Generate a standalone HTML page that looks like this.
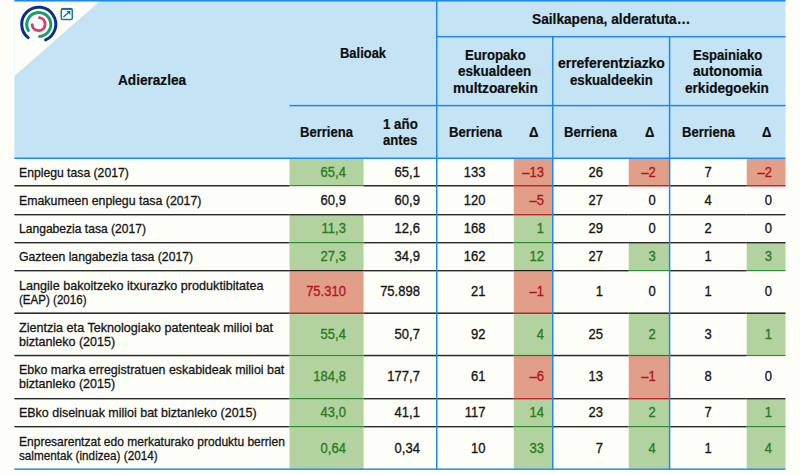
<!DOCTYPE html>
<html><head><meta charset="utf-8"><title>Adierazleak</title>
<style>
html,body{margin:0;padding:0;}
body{width:800px;height:475px;overflow:hidden;background:#fefef9;position:relative;font-family:"Liberation Sans",sans-serif;}
svg{position:absolute;left:0;top:0;}
.t{position:absolute;white-space:nowrap;color:#151515;line-height:16px;height:16px;}
.h{font-weight:bold;font-size:14px;color:#0e0e0e;-webkit-text-stroke:0.2px;}
.b{font-size:13px;-webkit-text-stroke:0.3px;}
.g{color:#2b7a1f;}
.r{color:#b3141a;}
</style></head><body>
<svg width="800" height="475" viewBox="0 0 800 475">
<rect x="14.4" y="0" width="771.1" height="158.5" fill="#c4e4f5"/>
<polygon points="14.4,1 100,1 14.4,75.9" fill="#fefef9"/>
<rect x="289.5" y="158.6" width="74.1" height="26.8" fill="#b2d3a0"/>
<rect x="513.8" y="158.6" width="38.2" height="26.8" fill="#e19f8a"/>
<rect x="628.7" y="158.6" width="40.3" height="26.8" fill="#e19f8a"/>
<rect x="746.7" y="158.6" width="38.8" height="26.8" fill="#e19f8a"/>
<rect x="513.8" y="186.1" width="38.2" height="28.3" fill="#e19f8a"/>
<rect x="289.5" y="215" width="74.1" height="27.4" fill="#b2d3a0"/>
<rect x="513.8" y="215" width="38.2" height="27.4" fill="#b2d3a0"/>
<rect x="289.5" y="243" width="74.1" height="27.4" fill="#b2d3a0"/>
<rect x="513.8" y="243" width="38.2" height="27.4" fill="#b2d3a0"/>
<rect x="628.7" y="243" width="40.3" height="27.4" fill="#b2d3a0"/>
<rect x="746.7" y="243" width="38.8" height="27.4" fill="#b2d3a0"/>
<rect x="289.5" y="271" width="74.1" height="41.8" fill="#e19f8a"/>
<rect x="513.8" y="271" width="38.2" height="41.8" fill="#e19f8a"/>
<rect x="289.5" y="313.6" width="74.1" height="41.6" fill="#b2d3a0"/>
<rect x="513.8" y="313.6" width="38.2" height="41.6" fill="#b2d3a0"/>
<rect x="628.7" y="313.6" width="40.3" height="41.6" fill="#b2d3a0"/>
<rect x="746.7" y="313.6" width="38.8" height="41.6" fill="#b2d3a0"/>
<rect x="289.5" y="355.9" width="74.1" height="42.5" fill="#b2d3a0"/>
<rect x="513.8" y="355.9" width="38.2" height="42.5" fill="#e19f8a"/>
<rect x="628.7" y="355.9" width="40.3" height="42.5" fill="#e19f8a"/>
<rect x="289.5" y="399" width="74.1" height="27.4" fill="#b2d3a0"/>
<rect x="513.8" y="399" width="38.2" height="27.4" fill="#b2d3a0"/>
<rect x="628.7" y="399" width="40.3" height="27.4" fill="#b2d3a0"/>
<rect x="746.7" y="399" width="38.8" height="27.4" fill="#b2d3a0"/>
<rect x="289.5" y="427" width="74.1" height="41.85" fill="#b2d3a0"/>
<rect x="513.8" y="427" width="38.2" height="41.85" fill="#b2d3a0"/>
<rect x="628.7" y="427" width="40.3" height="41.85" fill="#b2d3a0"/>
<rect x="746.7" y="427" width="38.8" height="41.85" fill="#b2d3a0"/>
<rect x="14.4" y="185" width="275.1" height="1.5" fill="#2b2b2b"/>
<rect x="289.5" y="185" width="74.1" height="1.2" fill="#2d8c31"/>
<rect x="363.6" y="185" width="72.4" height="1.5" fill="#2b2b2b"/>
<rect x="436" y="185" width="77.8" height="1.5" fill="#2b2b2b"/>
<rect x="513.8" y="185" width="38.2" height="1.5" fill="#c0272d"/>
<rect x="552" y="185" width="76.7" height="1.5" fill="#2b2b2b"/>
<rect x="628.7" y="185" width="40.3" height="1.5" fill="#c0272d"/>
<rect x="669" y="185" width="77.7" height="1.5" fill="#2b2b2b"/>
<rect x="746.7" y="185" width="38.8" height="1.5" fill="#c0272d"/>
<rect x="14.4" y="214" width="275.1" height="1.4" fill="#2b2b2b"/>
<rect x="289.5" y="214" width="74.1" height="1.4" fill="#2b2b2b"/>
<rect x="363.6" y="214" width="72.4" height="1.4" fill="#2b2b2b"/>
<rect x="436" y="214" width="77.8" height="1.4" fill="#2b2b2b"/>
<rect x="513.8" y="214" width="38.2" height="1.4" fill="#c0272d"/>
<rect x="552" y="214" width="76.7" height="1.4" fill="#2b2b2b"/>
<rect x="628.7" y="214" width="40.3" height="1.4" fill="#2b2b2b"/>
<rect x="669" y="214" width="77.7" height="1.4" fill="#2b2b2b"/>
<rect x="746.7" y="214" width="38.8" height="1.4" fill="#2b2b2b"/>
<rect x="14.4" y="242" width="275.1" height="1.4" fill="#2b2b2b"/>
<rect x="289.5" y="242" width="74.1" height="1.2" fill="#2d8c31"/>
<rect x="363.6" y="242" width="72.4" height="1.4" fill="#2b2b2b"/>
<rect x="436" y="242" width="77.8" height="1.4" fill="#2b2b2b"/>
<rect x="513.8" y="242" width="38.2" height="1.2" fill="#2d8c31"/>
<rect x="552" y="242" width="76.7" height="1.4" fill="#2b2b2b"/>
<rect x="628.7" y="242" width="40.3" height="1.4" fill="#2b2b2b"/>
<rect x="669" y="242" width="77.7" height="1.4" fill="#2b2b2b"/>
<rect x="746.7" y="242" width="38.8" height="1.4" fill="#2b2b2b"/>
<rect x="14.4" y="270" width="275.1" height="1.4" fill="#2b2b2b"/>
<rect x="289.5" y="270" width="74.1" height="1.2" fill="#1a1a1a"/>
<rect x="363.6" y="270" width="72.4" height="1.4" fill="#2b2b2b"/>
<rect x="436" y="270" width="77.8" height="1.4" fill="#2b2b2b"/>
<rect x="513.8" y="270" width="38.2" height="1.2" fill="#1a1a1a"/>
<rect x="552" y="270" width="76.7" height="1.4" fill="#2b2b2b"/>
<rect x="628.7" y="270" width="40.3" height="1.2" fill="#2d8c31"/>
<rect x="669" y="270" width="77.7" height="1.4" fill="#2b2b2b"/>
<rect x="746.7" y="270" width="38.8" height="1.2" fill="#2d8c31"/>
<rect x="14.4" y="312.4" width="275.1" height="1.6" fill="#2b2b2b"/>
<rect x="289.5" y="312.4" width="74.1" height="1.6" fill="#c0272d"/>
<rect x="363.6" y="312.4" width="72.4" height="1.6" fill="#2b2b2b"/>
<rect x="436" y="312.4" width="77.8" height="1.6" fill="#2b2b2b"/>
<rect x="513.8" y="312.4" width="38.2" height="1.6" fill="#c0272d"/>
<rect x="552" y="312.4" width="76.7" height="1.6" fill="#2b2b2b"/>
<rect x="628.7" y="312.4" width="40.3" height="1.6" fill="#2b2b2b"/>
<rect x="669" y="312.4" width="77.7" height="1.6" fill="#2b2b2b"/>
<rect x="746.7" y="312.4" width="38.8" height="1.6" fill="#2b2b2b"/>
<rect x="14.4" y="354.8" width="275.1" height="1.5" fill="#2b2b2b"/>
<rect x="289.5" y="354.95" width="74.1" height="1.15" fill="#2d8c31"/>
<rect x="363.6" y="354.8" width="72.4" height="1.5" fill="#2b2b2b"/>
<rect x="436" y="354.8" width="77.8" height="1.5" fill="#2b2b2b"/>
<rect x="513.8" y="354.9" width="38.2" height="1.2" fill="#1f7a20"/>
<rect x="552" y="354.8" width="76.7" height="1.5" fill="#2b2b2b"/>
<rect x="628.7" y="354.9" width="40.3" height="1.2" fill="#1f7a20"/>
<rect x="669" y="354.8" width="77.7" height="1.5" fill="#2b2b2b"/>
<rect x="746.7" y="354.95" width="38.8" height="1.15" fill="#2d8c31"/>
<rect x="14.4" y="398" width="275.1" height="1.4" fill="#2b2b2b"/>
<rect x="289.5" y="398" width="74.1" height="1.2" fill="#2d8c31"/>
<rect x="363.6" y="398" width="72.4" height="1.4" fill="#2b2b2b"/>
<rect x="436" y="398" width="77.8" height="1.4" fill="#2b2b2b"/>
<rect x="513.8" y="398" width="38.2" height="1.4" fill="#c0272d"/>
<rect x="552" y="398" width="76.7" height="1.4" fill="#2b2b2b"/>
<rect x="628.7" y="398" width="40.3" height="1.4" fill="#c0272d"/>
<rect x="669" y="398" width="77.7" height="1.4" fill="#2b2b2b"/>
<rect x="746.7" y="398" width="38.8" height="1.4" fill="#2b2b2b"/>
<rect x="14.4" y="426" width="275.1" height="1.4" fill="#2b2b2b"/>
<rect x="289.5" y="426" width="74.1" height="1.2" fill="#2d8c31"/>
<rect x="363.6" y="426" width="72.4" height="1.4" fill="#2b2b2b"/>
<rect x="436" y="426" width="77.8" height="1.4" fill="#2b2b2b"/>
<rect x="513.8" y="426" width="38.2" height="1.2" fill="#2d8c31"/>
<rect x="552" y="426" width="76.7" height="1.4" fill="#2b2b2b"/>
<rect x="628.7" y="426" width="40.3" height="1.2" fill="#2d8c31"/>
<rect x="669" y="426" width="77.7" height="1.4" fill="#2b2b2b"/>
<rect x="746.7" y="426" width="38.8" height="1.2" fill="#2d8c31"/>
<rect x="14.4" y="0" width="771.1" height="1.55" fill="#1f89e5"/>
<rect x="436" y="35.95" width="349.5" height="1.5" fill="#1f89e5"/>
<rect x="289.5" y="104.85" width="496" height="1.5" fill="#1f89e5"/>
<rect x="14.4" y="157.5" width="771.1" height="1.5" fill="#1f89e5"/>
<rect x="14.4" y="468.45" width="771.1" height="1.45" fill="#1f89e5"/>
<rect x="436" y="1" width="1.5" height="468.9" fill="#1f89e5"/>
<rect x="552" y="36" width="1.5" height="433.9" fill="#1f89e5"/>
<rect x="668.85" y="36" width="1.5" height="433.9" fill="#1f89e5"/>
<g fill="none" stroke-linecap="round">
<path d="M28.16,37.61 A17.05,17.05 0 1 1 45.60,39.86" stroke="#0a2f91" stroke-width="3.0"/>
<path d="M28.39,30.55 A12.0,12.0 0 1 1 39.55,36.47" stroke="#12a068" stroke-width="3.0"/>
<path d="M39.54,17.67 A6.5,6.5 0 1 1 32.12,24.61" stroke="#d63c70" stroke-width="2.9"/>
</g>
<g fill="none" stroke="#12789f" stroke-width="1.45">
<rect x="61.3" y="8.6" width="11" height="10.9" rx="1.3"/>
<path d="M61.6,8.9 H72" stroke-width="2" stroke="#0e6f9a"/>
<path d="M63.4,16.9 L68.9,12.3" stroke-width="1.35" stroke="#0e6f9a"/>
<path d="M66.4,11 H70.3 V14.9 Z" fill="#0e6f9a" stroke="none"/>
</g>
</svg>
<div class="t h" style="left:532.40px;top:11.00px;transform-origin:0 50%;transform:scaleX(0.9789);">Sailkapena, alderatuta…</div>
<div class="t h" style="left:117.80px;top:72.00px;transform-origin:0 50%;transform:scaleX(0.9718);">Adierazlea</div>
<div class="t h" style="left:340.20px;top:45.00px;transform-origin:0 50%;transform:scaleX(0.9240);">Balioak</div>
<div class="t h" style="left:464.65px;top:47.00px;transform-origin:0 50%;transform:scaleX(0.9400);">Europako</div>
<div class="t h" style="left:458.00px;top:63.00px;transform-origin:0 50%;transform:scaleX(0.9605);">eskualdeen</div>
<div class="t h" style="left:452.75px;top:80.00px;transform-origin:0 50%;transform:scaleX(0.9826);">multzoarekin</div>
<div class="t h" style="left:557.75px;top:55.00px;transform-origin:0 50%;transform:scaleX(0.9953);">erreferentziazko</div>
<div class="t h" style="left:570.00px;top:72.00px;transform-origin:0 50%;transform:scaleX(0.9409);">eskualdeekin</div>
<div class="t h" style="left:693.45px;top:47.00px;transform-origin:0 50%;transform:scaleX(0.9365);">Espainiako</div>
<div class="t h" style="left:692.80px;top:63.00px;transform-origin:0 50%;transform:scaleX(0.9775);">autonomia</div>
<div class="t h" style="left:685.25px;top:80.00px;transform-origin:0 50%;transform:scaleX(0.9709);">erkidegoekin</div>
<div class="t h" style="left:300.15px;top:124.00px;transform-origin:0 50%;transform:scaleX(0.9316);">Berriena</div>
<div class="t h" style="left:383.20px;top:116.00px;transform-origin:0 50%;transform:scaleX(0.9514);">1 año</div>
<div class="t h" style="left:383.15px;top:132.00px;transform-origin:0 50%;transform:scaleX(0.9378);">antes</div>
<div class="t h" style="left:449.00px;top:124.00px;transform-origin:0 50%;transform:scaleX(0.9333);">Berriena</div>
<div class="t h" style="left:528.80px;top:124.00px;transform-origin:0 50%;transform:scaleX(0.9400);">Δ</div>
<div class="t h" style="left:564.00px;top:124.00px;transform-origin:0 50%;transform:scaleX(0.9333);">Berriena</div>
<div class="t h" style="left:644.65px;top:124.00px;transform-origin:0 50%;transform:scaleX(0.9300);">Δ</div>
<div class="t h" style="left:681.50px;top:124.00px;transform-origin:0 50%;transform:scaleX(0.9333);">Berriena</div>
<div class="t h" style="left:761.75px;top:124.00px;transform-origin:0 50%;transform:scaleX(0.9300);">Δ</div>
<div class="t b" style="left:19.30px;top:165.00px;transform-origin:0 12px;transform:scale(0.9376,1.05);">Enplegu tasa (2017)</div>
<div class="t b g" style="right:454.10px;top:165.00px;transform-origin:100% 12px;transform:scale(1.0000,1.07);">65,4</div>
<div class="t b" style="right:380.10px;top:165.00px;transform-origin:100% 12px;transform:scale(1.0000,1.07);">65,1</div>
<div class="t b" style="right:314.50px;top:165.00px;transform-origin:100% 12px;transform:scale(1.0000,1.07);">133</div>
<div class="t b r" style="right:256.10px;top:165.00px;transform-origin:100% 12px;transform:scale(1.0000,1.07);">–13</div>
<div class="t b" style="right:197.10px;top:165.00px;transform-origin:100% 12px;transform:scale(1.0000,1.07);">26</div>
<div class="t b r" style="right:144.30px;top:165.00px;transform-origin:100% 12px;transform:scale(1.0000,1.07);">–2</div>
<div class="t b" style="right:88.20px;top:165.00px;transform-origin:100% 12px;transform:scale(1.0000,1.07);">7</div>
<div class="t b r" style="right:28.10px;top:165.00px;transform-origin:100% 12px;transform:scale(1.0000,1.07);">–2</div>
<div class="t b" style="left:19.30px;top:193.00px;transform-origin:0 12px;transform:scale(0.9490,1.05);">Emakumeen enplegu tasa (2017)</div>
<div class="t b" style="right:454.10px;top:193.00px;transform-origin:100% 12px;transform:scale(1.0000,1.07);">60,9</div>
<div class="t b" style="right:380.10px;top:193.00px;transform-origin:100% 12px;transform:scale(1.0000,1.07);">60,9</div>
<div class="t b" style="right:314.50px;top:193.00px;transform-origin:100% 12px;transform:scale(1.0000,1.07);">120</div>
<div class="t b r" style="right:256.10px;top:193.00px;transform-origin:100% 12px;transform:scale(1.0000,1.07);">–5</div>
<div class="t b" style="right:197.10px;top:193.00px;transform-origin:100% 12px;transform:scale(1.0000,1.07);">27</div>
<div class="t b" style="right:144.30px;top:193.00px;transform-origin:100% 12px;transform:scale(1.0000,1.07);">0</div>
<div class="t b" style="right:88.20px;top:193.00px;transform-origin:100% 12px;transform:scale(1.0000,1.07);">4</div>
<div class="t b" style="right:28.10px;top:193.00px;transform-origin:100% 12px;transform:scale(1.0000,1.07);">0</div>
<div class="t b" style="left:19.30px;top:221.00px;transform-origin:0 12px;transform:scale(0.9299,1.05);">Langabezia tasa (2017)</div>
<div class="t b g" style="right:454.10px;top:221.00px;transform-origin:100% 12px;transform:scale(1.0000,1.07);">11,3</div>
<div class="t b" style="right:380.10px;top:221.00px;transform-origin:100% 12px;transform:scale(1.0000,1.07);">12,6</div>
<div class="t b" style="right:314.50px;top:221.00px;transform-origin:100% 12px;transform:scale(1.0000,1.07);">168</div>
<div class="t b g" style="right:256.10px;top:221.00px;transform-origin:100% 12px;transform:scale(1.0000,1.07);">1</div>
<div class="t b" style="right:197.10px;top:221.00px;transform-origin:100% 12px;transform:scale(1.0000,1.07);">29</div>
<div class="t b" style="right:144.30px;top:221.00px;transform-origin:100% 12px;transform:scale(1.0000,1.07);">0</div>
<div class="t b" style="right:88.20px;top:221.00px;transform-origin:100% 12px;transform:scale(1.0000,1.07);">2</div>
<div class="t b" style="right:28.10px;top:221.00px;transform-origin:100% 12px;transform:scale(1.0000,1.07);">0</div>
<div class="t b" style="left:19.30px;top:249.00px;transform-origin:0 12px;transform:scale(0.9411,1.05);">Gazteen langabezia tasa (2017)</div>
<div class="t b g" style="right:454.10px;top:249.00px;transform-origin:100% 12px;transform:scale(1.0000,1.07);">27,3</div>
<div class="t b" style="right:380.10px;top:249.00px;transform-origin:100% 12px;transform:scale(1.0000,1.07);">34,9</div>
<div class="t b" style="right:314.50px;top:249.00px;transform-origin:100% 12px;transform:scale(1.0000,1.07);">162</div>
<div class="t b g" style="right:256.10px;top:249.00px;transform-origin:100% 12px;transform:scale(1.0000,1.07);">12</div>
<div class="t b" style="right:197.10px;top:249.00px;transform-origin:100% 12px;transform:scale(1.0000,1.07);">27</div>
<div class="t b g" style="right:144.30px;top:249.00px;transform-origin:100% 12px;transform:scale(1.0000,1.07);">3</div>
<div class="t b" style="right:88.20px;top:249.00px;transform-origin:100% 12px;transform:scale(1.0000,1.07);">1</div>
<div class="t b g" style="right:28.10px;top:249.00px;transform-origin:100% 12px;transform:scale(1.0000,1.07);">3</div>
<div class="t b" style="left:19.30px;top:278.00px;transform-origin:0 12px;transform:scale(0.9696,1.05);">Langile bakoitzeko itxurazko produktibitatea</div>
<div class="t b" style="left:19.30px;top:292.00px;transform-origin:0 12px;transform:scale(0.8895,1.05);">(EAP) (2016)</div>
<div class="t b r" style="right:454.10px;top:284.00px;transform-origin:100% 12px;transform:scale(1.0000,1.07);">75.310</div>
<div class="t b" style="right:380.10px;top:284.00px;transform-origin:100% 12px;transform:scale(1.0000,1.07);">75.898</div>
<div class="t b" style="right:314.50px;top:284.00px;transform-origin:100% 12px;transform:scale(1.0000,1.07);">21</div>
<div class="t b r" style="right:256.10px;top:284.00px;transform-origin:100% 12px;transform:scale(1.0000,1.07);">–1</div>
<div class="t b" style="right:197.10px;top:284.00px;transform-origin:100% 12px;transform:scale(1.0000,1.07);">1</div>
<div class="t b" style="right:144.30px;top:284.00px;transform-origin:100% 12px;transform:scale(1.0000,1.07);">0</div>
<div class="t b" style="right:88.20px;top:284.00px;transform-origin:100% 12px;transform:scale(1.0000,1.07);">1</div>
<div class="t b" style="right:28.10px;top:284.00px;transform-origin:100% 12px;transform:scale(1.0000,1.07);">0</div>
<div class="t b" style="left:19.30px;top:320.00px;transform-origin:0 12px;transform:scale(0.9692,1.05);">Zientzia eta Teknologiako patenteak milioi bat</div>
<div class="t b" style="left:19.30px;top:334.00px;transform-origin:0 12px;transform:scale(0.9640,1.05);">biztanleko (2015)</div>
<div class="t b g" style="right:454.10px;top:327.00px;transform-origin:100% 12px;transform:scale(1.0000,1.07);">55,4</div>
<div class="t b" style="right:380.10px;top:327.00px;transform-origin:100% 12px;transform:scale(1.0000,1.07);">50,7</div>
<div class="t b" style="right:314.50px;top:327.00px;transform-origin:100% 12px;transform:scale(1.0000,1.07);">92</div>
<div class="t b g" style="right:256.10px;top:327.00px;transform-origin:100% 12px;transform:scale(1.0000,1.07);">4</div>
<div class="t b" style="right:197.10px;top:327.00px;transform-origin:100% 12px;transform:scale(1.0000,1.07);">25</div>
<div class="t b g" style="right:144.30px;top:327.00px;transform-origin:100% 12px;transform:scale(1.0000,1.07);">2</div>
<div class="t b" style="right:88.20px;top:327.00px;transform-origin:100% 12px;transform:scale(1.0000,1.07);">3</div>
<div class="t b g" style="right:28.10px;top:327.00px;transform-origin:100% 12px;transform:scale(1.0000,1.07);">1</div>
<div class="t b" style="left:19.30px;top:362.00px;transform-origin:0 12px;transform:scale(0.9561,1.05);">Ebko marka erregistratuen eskabideak milioi bat</div>
<div class="t b" style="left:19.30px;top:376.00px;transform-origin:0 12px;transform:scale(0.9640,1.05);">biztanleko (2015)</div>
<div class="t b g" style="right:454.10px;top:369.00px;transform-origin:100% 12px;transform:scale(1.0000,1.07);">184,8</div>
<div class="t b" style="right:380.10px;top:369.00px;transform-origin:100% 12px;transform:scale(1.0000,1.07);">177,7</div>
<div class="t b" style="right:314.50px;top:369.00px;transform-origin:100% 12px;transform:scale(1.0000,1.07);">61</div>
<div class="t b r" style="right:256.10px;top:369.00px;transform-origin:100% 12px;transform:scale(1.0000,1.07);">–6</div>
<div class="t b" style="right:197.10px;top:369.00px;transform-origin:100% 12px;transform:scale(1.0000,1.07);">13</div>
<div class="t b r" style="right:144.30px;top:369.00px;transform-origin:100% 12px;transform:scale(1.0000,1.07);">–1</div>
<div class="t b" style="right:88.20px;top:369.00px;transform-origin:100% 12px;transform:scale(1.0000,1.07);">8</div>
<div class="t b" style="right:28.10px;top:369.00px;transform-origin:100% 12px;transform:scale(1.0000,1.07);">0</div>
<div class="t b" style="left:19.30px;top:405.00px;transform-origin:0 12px;transform:scale(0.9585,1.05);">EBko diseinuak milioi bat biztanleko (2015)</div>
<div class="t b g" style="right:454.10px;top:405.00px;transform-origin:100% 12px;transform:scale(1.0000,1.07);">43,0</div>
<div class="t b" style="right:380.10px;top:405.00px;transform-origin:100% 12px;transform:scale(1.0000,1.07);">41,1</div>
<div class="t b" style="right:314.50px;top:405.00px;transform-origin:100% 12px;transform:scale(1.0000,1.07);">117</div>
<div class="t b g" style="right:256.10px;top:405.00px;transform-origin:100% 12px;transform:scale(1.0000,1.07);">14</div>
<div class="t b" style="right:197.10px;top:405.00px;transform-origin:100% 12px;transform:scale(1.0000,1.07);">23</div>
<div class="t b g" style="right:144.30px;top:405.00px;transform-origin:100% 12px;transform:scale(1.0000,1.07);">2</div>
<div class="t b" style="right:88.20px;top:405.00px;transform-origin:100% 12px;transform:scale(1.0000,1.07);">7</div>
<div class="t b g" style="right:28.10px;top:405.00px;transform-origin:100% 12px;transform:scale(1.0000,1.07);">1</div>
<div class="t b" style="left:19.30px;top:434.00px;transform-origin:0 12px;transform:scale(0.9243,1.05);">Enpresarentzat edo merkaturako produktu berrien</div>
<div class="t b" style="left:19.30px;top:448.00px;transform-origin:0 12px;transform:scale(0.9006,1.05);">salmentak (indizea) (2014)</div>
<div class="t b g" style="right:454.10px;top:441.00px;transform-origin:100% 12px;transform:scale(1.0000,1.07);">0,64</div>
<div class="t b" style="right:380.10px;top:441.00px;transform-origin:100% 12px;transform:scale(1.0000,1.07);">0,34</div>
<div class="t b" style="right:314.50px;top:441.00px;transform-origin:100% 12px;transform:scale(1.0000,1.07);">10</div>
<div class="t b g" style="right:256.10px;top:441.00px;transform-origin:100% 12px;transform:scale(1.0000,1.07);">33</div>
<div class="t b" style="right:197.10px;top:441.00px;transform-origin:100% 12px;transform:scale(1.0000,1.07);">7</div>
<div class="t b g" style="right:144.30px;top:441.00px;transform-origin:100% 12px;transform:scale(1.0000,1.07);">4</div>
<div class="t b" style="right:88.20px;top:441.00px;transform-origin:100% 12px;transform:scale(1.0000,1.07);">1</div>
<div class="t b g" style="right:28.10px;top:441.00px;transform-origin:100% 12px;transform:scale(1.0000,1.07);">4</div>
</body></html>
